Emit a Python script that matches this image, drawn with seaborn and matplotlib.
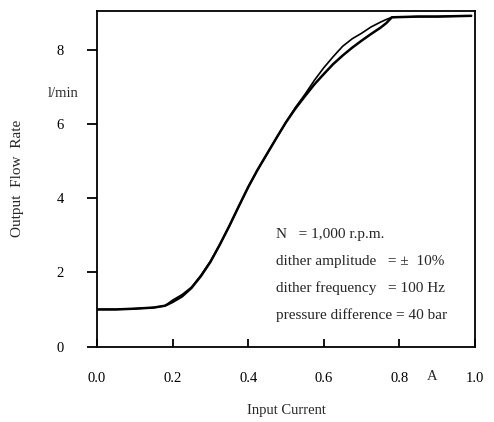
import matplotlib
matplotlib.use("Agg")
import matplotlib.pyplot as plt
import seaborn as sns
import pandas as pd

# Input current (A)
current = [0.0, 0.05, 0.10, 0.15, 0.18, 0.20, 0.225, 0.25, 0.275, 0.30,
           0.325, 0.35, 0.375, 0.40, 0.425, 0.45, 0.475, 0.50, 0.525, 0.55,
           0.575, 0.60, 0.625, 0.65, 0.675, 0.70, 0.725, 0.75, 0.765, 0.78,
           0.85, 0.90, 0.99]
# Output flow rate (l/min), two traces
flow_lower = [1.0, 1.0, 1.02, 1.05, 1.10, 1.20, 1.35, 1.58, 1.90, 2.28,
              2.75, 3.25, 3.78, 4.30, 4.77, 5.20, 5.63, 6.05, 6.42, 6.75,
              7.07, 7.35, 7.62, 7.85, 8.06, 8.25, 8.43, 8.60, 8.72, 8.88,
              8.90, 8.90, 8.92]
flow_upper = [1.0, 1.0, 1.02, 1.05, 1.10, 1.25, 1.40, 1.60, 1.92, 2.30,
              2.75, 3.25, 3.78, 4.30, 4.77, 5.20, 5.63, 6.05, 6.45, 6.80,
              7.18, 7.52, 7.82, 8.10, 8.30, 8.45, 8.62, 8.75, 8.82, 8.88,
              8.90, 8.90, 8.92]

x_ticks = [0.0, 0.2, 0.4, 0.6, 0.8, 1.0]
x_tick_labels = ["0.0", "0.2", "0.4", "0.6", "0.8", "1.0"]
y_ticks = [0, 2, 4, 6, 8]
notes = ["N   = 1,000 r.p.m.",
         "dither amplitude   = \u00b1  10%",
         "dither frequency   = 100 Hz",
         "pressure difference = 40 bar"]

df = pd.DataFrame({
    "current": current * 2,
    "flow": flow_lower + flow_upper,
    "trace": ["lower"] * len(current) + ["upper"] * len(current),
})

sns.set_theme(style="ticks")
plt.rcParams["font.family"] = ["Liberation Serif", "DejaVu Serif"]

fig = plt.figure(figsize=(4.94, 4.22), dpi=100)
ax = fig.add_axes([97 / 494, 1 - 346.5 / 422, 378 / 494, 335.5 / 422])

sns.lineplot(data=df, x="current", y="flow", hue="trace", size="trace",
             sizes={"lower": 1.8, "upper": 1.2},
             palette={"lower": "black", "upper": "black"},
             legend=False, ax=ax, sort=False, estimator=None)

ax.set_xlim(0, 1.0)
ax.set_ylim(0, 9.05)
ax.set_xticks(x_ticks)
ax.set_xticklabels(x_tick_labels)
ax.set_yticks(y_ticks)

for s in ax.spines.values():
    s.set_visible(True)
    s.set_linewidth(1.3)
    s.set_color("black")

ax.tick_params(axis="x", direction="in", length=6, width=1.3, pad=18,
               labelsize=10.5, colors="black")
ax.tick_params(axis="y", direction="out", length=7, width=1.3, pad=17,
               labelsize=10.5, colors="black")

ax.set_xlabel("Input Current", fontsize=10.5)
ax.set_ylabel("Output  Flow  Rate", fontsize=11)
ax.xaxis.set_label_coords(0.5, -0.17)
ax.yaxis.set_label_coords(-0.193, 0.50)

ax.text(0.886, -30 / 335.5 * 9.05, "A", ha="center", va="center",
        fontsize=10.5, clip_on=False)
ax.text(-0.09, 6.82, "l/min", ha="center", va="center", fontsize=10.5,
        clip_on=False)

note_y = [3.01, 2.28, 1.58, 0.85]
for txt, yy in zip(notes, note_y):
    ax.text(0.474, yy, txt, ha="left", va="center", fontsize=11)

fig.savefig("out.png", dpi=100)
